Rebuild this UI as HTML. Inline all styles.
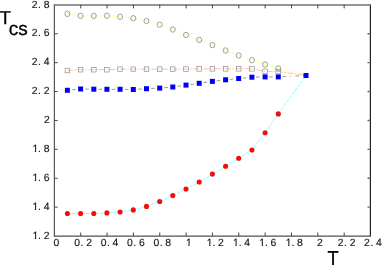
<!DOCTYPE html>
<html><head><meta charset="utf-8"><title>Tcs vs T</title>
<style>
html,body{margin:0;padding:0;background:#fff;}
body{width:382px;height:265px;overflow:hidden;font-family:"Liberation Sans",sans-serif;}
svg{display:block;will-change:transform;opacity:0.999;}
text{font-family:"Liberation Sans",sans-serif;fill:#111;text-rendering:geometricPrecision;}
.tk{font-size:10.4px;fill:#1a1a1a;stroke:#1a1a1a;stroke-width:0.15px;}
.big{font-size:18.4px;fill:#000;stroke:#000;stroke-width:0.3px;}
</style></head><body>
<svg width="382" height="265" viewBox="0 0 382 265">
<defs><clipPath id="one" clipPathUnits="userSpaceOnUse"><polygon points="0,-9 6,-9 6,-1.3 3.8,-1.3 3.8,0.4 2.35,0.4 2.35,-1.3 0,-1.3"/></clipPath></defs>
<rect width="382" height="265" fill="#fff"/>

<polyline points="67.4,13.9 80.6,15.8 93.8,15.9 106.9,15.7 120.1,16.8 133.3,18.2 146.5,21.0 159.7,24.7 172.8,29.5 186.0,35.0 199.2,39.9 212.4,45.1 225.6,50.5 238.7,55.5 251.9,60.2 265.1,64.5 278.3,68.4 306.0,75.5" fill="none" stroke="#ffff00" stroke-width="0.65" stroke-dasharray="2 1" opacity="0.65"/>
<polyline points="67.4,70.5 80.6,69.7 93.8,69.7 106.9,69.7 120.1,69.2 133.3,69.2 146.5,69.2 159.7,69.2 172.8,69.2 186.0,69.1 199.2,68.9 212.4,68.8 225.6,68.8 238.7,68.8 251.9,68.8 265.1,71.3 278.3,71.5 306.0,75.5" fill="none" stroke="#ff7030" stroke-width="0.55" stroke-dasharray="6 1.5 1.5 1.5" opacity="0.8"/>
<polyline points="67.4,90.2 80.6,89.0 93.8,89.2 106.9,89.3 120.1,89.3 133.3,89.5 146.5,88.7 159.7,88.1 172.8,87.0 186.0,85.1 199.2,83.3 212.4,81.4 225.6,79.8 238.7,78.5 251.9,77.2 265.1,76.9 278.3,76.9 306.0,75.5" fill="none" stroke="#606060" stroke-width="0.65" stroke-dasharray="3.6 3.9 1 4.68" stroke-dashoffset="8.39"/>
<polyline points="67.4,213.5 80.6,213.5 93.8,213.5 106.9,212.9 120.1,212.0 133.3,209.9 146.5,206.4 159.7,201.5 172.8,195.6 186.0,189.0 199.2,182.0 212.4,174.1 225.6,166.3 238.7,158.3 251.9,150.0 265.1,132.7 278.3,113.9 306.0,75.5" fill="none" stroke="#30ffff" stroke-width="0.65" stroke-dasharray="3.6 1.1" opacity="0.9"/>
<path d="M54.4,4.300000000000001V236.6" stroke="#5a5a5a" stroke-width="1.25" fill="none"/>
<path d="M370.4,4.300000000000001V236.6" stroke="#222" stroke-width="1.2" fill="none"/>
<path d="M53.9,4.9H371.0" stroke="#707070" stroke-width="1.5" fill="none"/>
<path d="M53.9,236.15H371.0" stroke="#505050" stroke-width="1.1" fill="none"/>
<path d="M80.74,236.0v-3.5M80.74,4.9v3.5M107.08,236.0v-3.5M107.08,4.9v3.5M133.43,236.0v-3.5M133.43,4.9v3.5M159.77,236.0v-3.5M159.77,4.9v3.5M186.11,236.0v-3.5M186.11,4.9v3.5M212.45,236.0v-3.5M212.45,4.9v3.5M238.79,236.0v-3.5M238.79,4.9v3.5M265.13,236.0v-3.5M265.13,4.9v3.5M291.48,236.0v-3.5M291.48,4.9v3.5M317.82,236.0v-3.5M317.82,4.9v3.5M344.16,236.0v-3.5M344.16,4.9v3.5M54.4,33.79h3.3M54.4,62.67h3.3M54.4,91.56h3.3M54.4,120.45h3.3M54.4,149.34h3.3M54.4,178.22h3.3M54.4,207.11h3.3" stroke="#444" stroke-width="1" fill="none"/>
<path d="M370.5,33.79h-3M370.5,62.67h-3M370.5,91.56h-3M370.5,120.45h-3M370.5,149.34h-3M370.5,178.22h-3M370.5,207.11h-3" stroke="#6a6a6a" stroke-width="1.4" fill="none"/>
<ellipse cx="67.4" cy="13.9" rx="2.5" ry="2.7" fill="none" stroke="#707070" stroke-width="0.65"/>
<ellipse cx="80.6" cy="15.8" rx="2.5" ry="2.7" fill="none" stroke="#707070" stroke-width="0.65"/>
<ellipse cx="93.8" cy="15.9" rx="2.5" ry="2.7" fill="none" stroke="#707070" stroke-width="0.65"/>
<ellipse cx="106.9" cy="15.7" rx="2.5" ry="2.7" fill="none" stroke="#707070" stroke-width="0.65"/>
<ellipse cx="120.1" cy="16.8" rx="2.5" ry="2.7" fill="none" stroke="#707070" stroke-width="0.65"/>
<ellipse cx="133.3" cy="18.2" rx="2.5" ry="2.7" fill="none" stroke="#707070" stroke-width="0.65"/>
<ellipse cx="146.5" cy="21.0" rx="2.5" ry="2.7" fill="none" stroke="#707070" stroke-width="0.65"/>
<ellipse cx="159.7" cy="24.7" rx="2.5" ry="2.7" fill="none" stroke="#707070" stroke-width="0.65"/>
<ellipse cx="172.8" cy="29.5" rx="2.5" ry="2.7" fill="none" stroke="#707070" stroke-width="0.65"/>
<ellipse cx="186.0" cy="35.0" rx="2.5" ry="2.7" fill="none" stroke="#707070" stroke-width="0.65"/>
<ellipse cx="199.2" cy="39.9" rx="2.5" ry="2.7" fill="none" stroke="#707070" stroke-width="0.65"/>
<ellipse cx="212.4" cy="45.1" rx="2.5" ry="2.7" fill="none" stroke="#707070" stroke-width="0.65"/>
<ellipse cx="225.6" cy="50.5" rx="2.5" ry="2.7" fill="none" stroke="#707070" stroke-width="0.65"/>
<ellipse cx="238.7" cy="55.5" rx="2.5" ry="2.7" fill="none" stroke="#707070" stroke-width="0.65"/>
<ellipse cx="251.9" cy="60.2" rx="2.5" ry="2.7" fill="none" stroke="#707070" stroke-width="0.65"/>
<ellipse cx="265.1" cy="64.5" rx="2.5" ry="2.7" fill="none" stroke="#707070" stroke-width="0.65"/>
<ellipse cx="278.3" cy="68.4" rx="2.5" ry="2.7" fill="none" stroke="#707070" stroke-width="0.65"/>
<rect x="65.1" y="68.2" width="4.6" height="4.6" fill="none" stroke="#808080" stroke-width="0.6"/>
<rect x="78.3" y="67.4" width="4.6" height="4.6" fill="none" stroke="#808080" stroke-width="0.6"/>
<rect x="91.5" y="67.4" width="4.6" height="4.6" fill="none" stroke="#808080" stroke-width="0.6"/>
<rect x="104.6" y="67.4" width="4.6" height="4.6" fill="none" stroke="#808080" stroke-width="0.6"/>
<rect x="117.8" y="66.9" width="4.6" height="4.6" fill="none" stroke="#808080" stroke-width="0.6"/>
<rect x="131.0" y="66.9" width="4.6" height="4.6" fill="none" stroke="#808080" stroke-width="0.6"/>
<rect x="144.2" y="66.9" width="4.6" height="4.6" fill="none" stroke="#808080" stroke-width="0.6"/>
<rect x="157.4" y="66.9" width="4.6" height="4.6" fill="none" stroke="#808080" stroke-width="0.6"/>
<rect x="170.5" y="66.9" width="4.6" height="4.6" fill="none" stroke="#808080" stroke-width="0.6"/>
<rect x="183.7" y="66.8" width="4.6" height="4.6" fill="none" stroke="#808080" stroke-width="0.6"/>
<rect x="196.9" y="66.6" width="4.6" height="4.6" fill="none" stroke="#808080" stroke-width="0.6"/>
<rect x="210.1" y="66.5" width="4.6" height="4.6" fill="none" stroke="#808080" stroke-width="0.6"/>
<rect x="223.3" y="66.5" width="4.6" height="4.6" fill="none" stroke="#808080" stroke-width="0.6"/>
<rect x="236.4" y="66.5" width="4.6" height="4.6" fill="none" stroke="#808080" stroke-width="0.6"/>
<rect x="249.6" y="66.5" width="4.6" height="4.6" fill="none" stroke="#808080" stroke-width="0.6"/>
<rect x="262.8" y="69.0" width="4.6" height="4.6" fill="none" stroke="#808080" stroke-width="0.6"/>
<rect x="276.0" y="69.2" width="4.6" height="4.6" fill="none" stroke="#808080" stroke-width="0.6"/>
<rect x="64.9" y="87.8" width="5" height="5" fill="#0000ee"/>
<rect x="78.1" y="86.5" width="5" height="5" fill="#0000ee"/>
<rect x="91.3" y="86.7" width="5" height="5" fill="#0000ee"/>
<rect x="104.4" y="86.8" width="5" height="5" fill="#0000ee"/>
<rect x="117.6" y="86.8" width="5" height="5" fill="#0000ee"/>
<rect x="130.8" y="87.0" width="5" height="5" fill="#0000ee"/>
<rect x="144.0" y="86.2" width="5" height="5" fill="#0000ee"/>
<rect x="157.2" y="85.6" width="5" height="5" fill="#0000ee"/>
<rect x="170.3" y="84.5" width="5" height="5" fill="#0000ee"/>
<rect x="183.5" y="82.6" width="5" height="5" fill="#0000ee"/>
<rect x="196.7" y="80.8" width="5" height="5" fill="#0000ee"/>
<rect x="209.9" y="78.9" width="5" height="5" fill="#0000ee"/>
<rect x="223.1" y="77.3" width="5" height="5" fill="#0000ee"/>
<rect x="236.2" y="76.0" width="5" height="5" fill="#0000ee"/>
<rect x="249.4" y="74.7" width="5" height="5" fill="#0000ee"/>
<rect x="262.6" y="74.4" width="5" height="5" fill="#0000ee"/>
<rect x="275.8" y="74.4" width="5" height="5" fill="#0000ee"/>
<rect x="303.5" y="73.0" width="5" height="5" fill="#0000ee"/>
<circle cx="67.4" cy="213.5" r="2.55" fill="#f60c0c"/>
<circle cx="80.6" cy="213.5" r="2.55" fill="#f60c0c"/>
<circle cx="93.8" cy="213.5" r="2.55" fill="#f60c0c"/>
<circle cx="106.9" cy="212.9" r="2.55" fill="#f60c0c"/>
<circle cx="120.1" cy="212.0" r="2.55" fill="#f60c0c"/>
<circle cx="133.3" cy="209.9" r="2.55" fill="#f60c0c"/>
<circle cx="146.5" cy="206.4" r="2.55" fill="#f60c0c"/>
<circle cx="159.7" cy="201.5" r="2.55" fill="#f60c0c"/>
<circle cx="172.8" cy="195.6" r="2.55" fill="#f60c0c"/>
<circle cx="186.0" cy="189.0" r="2.55" fill="#f60c0c"/>
<circle cx="199.2" cy="182.0" r="2.55" fill="#f60c0c"/>
<circle cx="212.4" cy="174.1" r="2.55" fill="#f60c0c"/>
<circle cx="225.6" cy="166.3" r="2.55" fill="#f60c0c"/>
<circle cx="238.7" cy="158.3" r="2.55" fill="#f60c0c"/>
<circle cx="251.9" cy="150.0" r="2.55" fill="#f60c0c"/>
<circle cx="265.1" cy="132.7" r="2.55" fill="#f60c0c"/>
<circle cx="278.3" cy="113.9" r="2.55" fill="#f60c0c"/>
<text class="tk" x="53.6" y="245.6">0</text>
<text class="tk" x="74.3" y="245.6">0</text><text class="tk" x="80.6" y="245.6">.</text><text class="tk" x="86.2" y="245.6">2</text>
<text class="tk" x="100.7" y="245.6">0</text><text class="tk" x="107.0" y="245.6">.</text><text class="tk" x="112.6" y="245.6">4</text>
<text class="tk" x="127.0" y="245.6">0</text><text class="tk" x="133.3" y="245.6">.</text><text class="tk" x="138.9" y="245.6">6</text>
<text class="tk" x="153.4" y="245.6">0</text><text class="tk" x="159.7" y="245.6">.</text><text class="tk" x="165.3" y="245.6">8</text>
<g transform="translate(185.9,245.6)"><text class="tk" clip-path="url(#one)">1</text></g>
<g transform="translate(206.7,245.6)"><text class="tk" clip-path="url(#one)">1</text></g><text class="tk" x="212.4" y="245.6">.</text><text class="tk" x="218.0" y="245.6">2</text>
<g transform="translate(233.0,245.6)"><text class="tk" clip-path="url(#one)">1</text></g><text class="tk" x="238.7" y="245.6">.</text><text class="tk" x="244.3" y="245.6">4</text>
<g transform="translate(259.3,245.6)"><text class="tk" clip-path="url(#one)">1</text></g><text class="tk" x="265.0" y="245.6">.</text><text class="tk" x="270.6" y="245.6">6</text>
<g transform="translate(285.7,245.6)"><text class="tk" clip-path="url(#one)">1</text></g><text class="tk" x="291.4" y="245.6">.</text><text class="tk" x="297.0" y="245.6">8</text>
<text class="tk" x="317.0" y="245.6">2</text>
<text class="tk" x="337.8" y="245.6">2</text><text class="tk" x="344.1" y="245.6">.</text><text class="tk" x="349.7" y="245.6">2</text>
<text class="tk" x="364.1" y="245.6">2</text><text class="tk" x="370.4" y="245.6">.</text><text class="tk" x="376.0" y="245.6">4</text>
<text class="tk" x="31.8" y="7.9">2</text><text class="tk" x="38.1" y="7.9">.</text><text class="tk" x="43.7" y="7.9">8</text>
<text class="tk" x="31.8" y="36.3">2</text><text class="tk" x="38.1" y="36.3">.</text><text class="tk" x="43.7" y="36.3">6</text>
<text class="tk" x="31.8" y="65.0">2</text><text class="tk" x="38.1" y="65.0">.</text><text class="tk" x="43.7" y="65.0">4</text>
<text class="tk" x="31.8" y="93.8">2</text><text class="tk" x="38.1" y="93.8">.</text><text class="tk" x="43.7" y="93.8">2</text>
<text class="tk" x="43.9" y="122.5">2</text>
<g transform="translate(32.4,152.3)"><text class="tk" clip-path="url(#one)">1</text></g><text class="tk" x="38.1" y="152.3">.</text><text class="tk" x="43.7" y="152.3">8</text>
<g transform="translate(32.4,181.2)"><text class="tk" clip-path="url(#one)">1</text></g><text class="tk" x="38.1" y="181.2">.</text><text class="tk" x="43.7" y="181.2">6</text>
<g transform="translate(32.4,210.1)"><text class="tk" clip-path="url(#one)">1</text></g><text class="tk" x="38.1" y="210.1">.</text><text class="tk" x="43.7" y="210.1">4</text>
<g transform="translate(32.4,239.0)"><text class="tk" clip-path="url(#one)">1</text></g><text class="tk" x="38.1" y="239.0">.</text><text class="tk" x="43.7" y="239.0">2</text>
<text class="big" x="-0.5" y="24.3" style="font-size:18.7px">T</text>
<text class="big" x="8.7" y="35.3" style="font-size:19px">cs</text>
<text class="big" transform="translate(327.5,264.7) scale(0.9,1)" style="font-size:20.2px">T</text>
</svg></body></html>
